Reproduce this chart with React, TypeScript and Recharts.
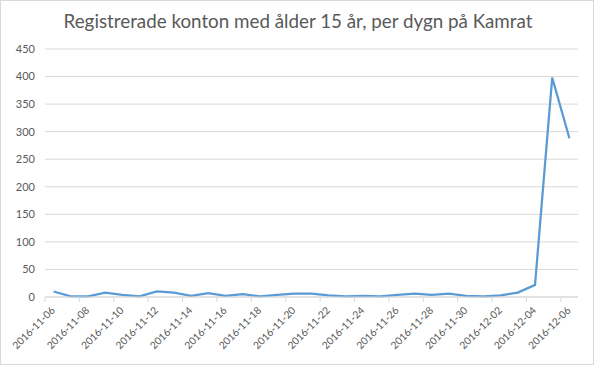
import { LineChart, Line, XAxis, YAxis, CartesianGrid } from 'recharts';

const dates = [
  '2016-11-06', '2016-11-07', '2016-11-08', '2016-11-09', '2016-11-10', '2016-11-11',
  '2016-11-12', '2016-11-13', '2016-11-14', '2016-11-15', '2016-11-16', '2016-11-17',
  '2016-11-18', '2016-11-19', '2016-11-20', '2016-11-21', '2016-11-22', '2016-11-23',
  '2016-11-24', '2016-11-25', '2016-11-26', '2016-11-27', '2016-11-28', '2016-11-29',
  '2016-11-30', '2016-12-01', '2016-12-02', '2016-12-03', '2016-12-04', '2016-12-05',
  '2016-12-06',
];

const accounts = [
  10, 1, 1, 8, 4, 1, 10, 8, 2, 7, 2, 5, 1, 4, 6, 6,
  3, 1, 2, 1, 4, 6, 4, 6, 2, 1, 3, 8, 22, 398, 288,
];

const yTicks = [0, 50, 100, 150, 200, 250, 300, 350, 400, 450];

// tick marks sit on category boundaries, every second day
const boundaryTicks = dates.filter((_, i) => i % 2 === 0).map((_, k) => k * 2 - 0.5);

const data = dates.map((d, i) => ({ i, date: d, value: accounts[i] }));

const W = 594;
const H = 365;
const LEFT = 45;
const RIGHT = 16;
const HALF = (W - LEFT - RIGHT) / dates.length / 2;

const font = 'Lato, "Open Sans", sans-serif';

function DateTick({ x, y, payload }: any) {
  const idx = Math.round(payload.value + 0.5);
  const tx = x + HALF + 2;
  const ty = y + 14;
  return (
    <g>
      <line x1={x} y1={y} x2={x} y2={y + 5} stroke="#d9d9d9" />
      <text
        x={tx}
        y={ty}
        textAnchor="end"
        fontSize={10.2}
        fill="#595959"
        fontFamily={font}
        transform={`rotate(-45, ${tx}, ${ty})`}
      >
        {dates[idx]}
      </text>
    </g>
  );
}

export default function App() {
  return (
    <div
      style={{
        position: 'absolute',
        left: 0,
        top: 0,
        width: W,
        height: H,
        boxSizing: 'border-box',
        border: '1px solid #d9d9d9',
        background: '#fff',
      }}
    >
      <div
        style={{
          position: 'absolute',
          top: 8,
          left: 0,
          width: W,
          textAlign: 'center',
          fontFamily: font,
          fontSize: 18.8,
          color: '#595959',
        }}
      >
        Registrerade konton med ålder 15 år, per dygn på Kamrat
      </div>
      <div style={{ position: 'absolute', left: -1, top: -1 }}>
        <LineChart width={W} height={H} data={data} margin={{ top: 49, right: RIGHT, left: 0, bottom: 0 }}>
          <CartesianGrid vertical={false} stroke="#d9d9d9" />
          <XAxis
            type="number"
            dataKey="i"
            domain={[-0.5, dates.length - 0.5]}
            ticks={boundaryTicks}
            interval={0}
            tick={<DateTick />}
            tickLine={false}
            tickSize={0}
            tickMargin={0}
            axisLine={{ stroke: '#d9d9d9' }}
            height={68}
          />
          <YAxis
            domain={[0, 450]}
            ticks={yTicks}
            width={LEFT}
            axisLine={false}
            tickLine={false}
            tickSize={0}
            tickMargin={10}
            tick={{ fontSize: 11, fill: '#595959', fontFamily: font }}
          />
          <Line
            type="linear"
            dataKey="value"
            stroke="#5b9bd5"
            strokeWidth={2.25}
            dot={false}
            isAnimationActive={false}
          />
        </LineChart>
      </div>
    </div>
  );
}
